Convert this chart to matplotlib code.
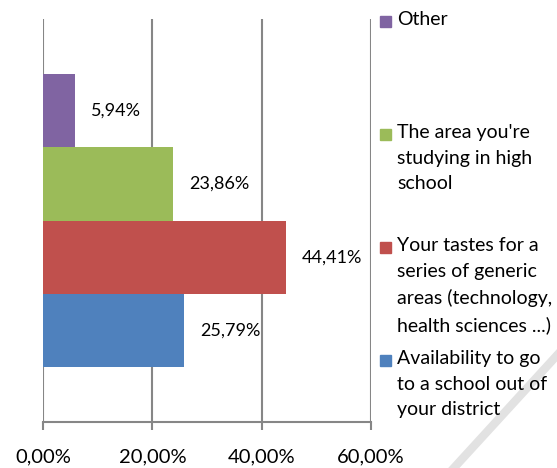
import matplotlib
matplotlib.use("Agg")
import matplotlib.pyplot as plt
from matplotlib.patches import Rectangle
from matplotlib.lines import Line2D

# ---- data ----
series_labels = [
    "Availability to go\nto a school out of\nyour district",
    "Your tastes for a\nseries of generic\nareas (technology,\nhealth sciences ...)",
    "The area you're\nstudying in high\nschool",
    "Other",
]
values = [25.79, 44.41, 23.86, 5.94]
value_labels = ["25,79%", "44,41%", "23,86%", "5,94%"]
colors = ["#4F81BD", "#C0504D", "#9BBB59", "#8064A2"]
xticks = [0, 20, 40, 60]
xtick_labels = ["0,00%", "20,00%", "40,00%", "60,00%"]

plt.rcParams['font.family'] = ['Lato', 'DejaVu Sans']

W, H = 557, 468
fig = plt.figure(figsize=(W / 100, H / 100), dpi=100)
ax = fig.add_axes([43 / W, 46 / H, (371 - 43) / W, (422 - 19) / H])

n = len(values)
gap = 1.5
h = 1.0 / (n + gap)
for i, (v, c, lab) in enumerate(zip(values, colors, value_labels)):
    y = 0.5 + (i - (n - 1) / 2) * h
    ax.barh(y, v, height=h, color=c, zorder=2)
    ax.annotate(lab, xy=(v, y), xytext=(11.5, 0), textcoords='offset points',
                ha='left', va='center', fontsize=13, color='black')

ax.set_xlim(0, 60)
ax.set_ylim(0, 1)
ax.set_xticks(xticks)
ax.set_xticklabels(xtick_labels, fontsize=14.5)
ax.set_yticks([])
for s in ['top', 'right', 'left']:
    ax.spines[s].set_visible(False)
ax.spines['bottom'].set_color('#868686')
ax.spines['bottom'].set_linewidth(1.5)
ax.tick_params(axis='x', direction='out', length=6, width=1.5, color='#868686', pad=13)
ax.xaxis.grid(True, color='#868686', linewidth=1.5, zorder=0)
ax.set_axisbelow(True)

# legend (manual, top-aligned entries)
leg_order = [3, 2, 1, 0]
captops = [15, 128, 241, 354]
for k, t in zip(leg_order, captops):
    fig.patches.append(Rectangle((380 / W, (H - t - 12) / H), 11 / W, 11 / H,
                                 transform=fig.transFigure, color=colors[k]))
    fig.text(397 / W, (H - t + 4) / H, series_labels[k], fontsize=14,
             va='top', ha='left', linespacing=1.62)

# faint watermark stroke
fig.lines.append(Line2D([452 / W, 560 / W], [(H - 470) / H, (H - 352) / H],
                        transform=fig.transFigure, color='#e2e2e2',
                        linewidth=6, zorder=-1))

fig.savefig("out.png", dpi=100)
